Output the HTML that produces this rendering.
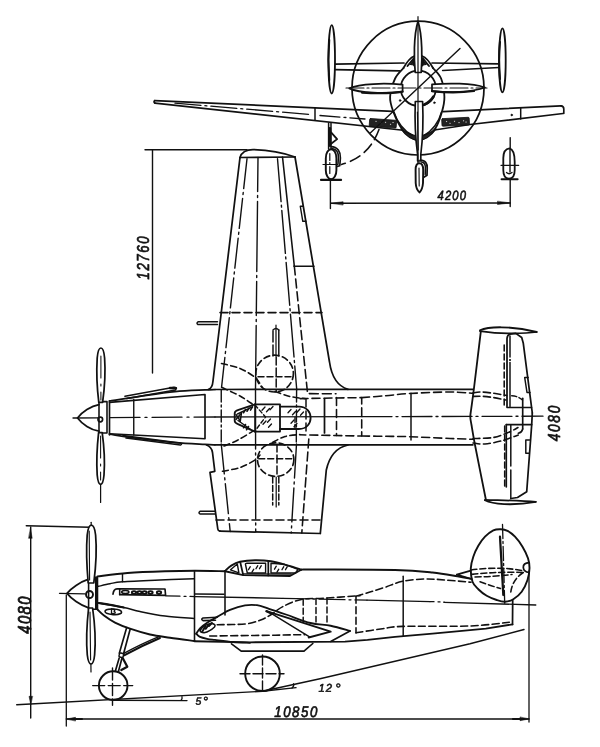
<!DOCTYPE html>
<html><head><meta charset="utf-8"><title>Drawing</title>
<style>
html,body{margin:0;padding:0;background:#fff;}
body{width:600px;height:747px;overflow:hidden;}
svg{display:block;}
text{font-family:"Liberation Sans",sans-serif;fill:#111;}
svg{will-change:transform;}
</style></head><body>
<svg width="600" height="747" viewBox="0 0 600 747" stroke-linecap="round" stroke-linejoin="round">
<rect x="0" y="0" width="600" height="747" fill="#fff"/>
<g id="front">
<path d="M335,64.2 L404,63" fill="none" stroke="#111" stroke-width="1.74"/>
<path d="M335,69.6 L399.5,70.8" fill="none" stroke="#111" stroke-width="1.74"/>
<path d="M432,63 L499,63.8" fill="none" stroke="#111" stroke-width="1.74"/>
<path d="M442.7,70.5 L499,67.5" fill="none" stroke="#111" stroke-width="1.74"/>
<ellipse cx="331.7" cy="59.3" rx="3.3" ry="34.2" fill="#fff" stroke="#111" stroke-width="1.82"/>
<path d="M329.3,40 C328.2,52 328.2,68 329.3,80" fill="none" stroke="#111" stroke-width="1.91"/>
<ellipse cx="502.4" cy="60.3" rx="3.3" ry="32" fill="#fff" stroke="#111" stroke-width="1.82"/>
<path d="M500,42 C499,52 499,68 500,79" fill="none" stroke="#111" stroke-width="2.08"/>
<path d="M154.7,100.6 L392.7,111.3" fill="none" stroke="#111" stroke-width="1.66"/>
<path d="M155,103.2 L410,131" fill="none" stroke="#111" stroke-width="1.74"/>
<path d="M154.7,100.6 Q153.2,102 155,103.2" fill="none" stroke="#111" stroke-width="1.74"/>
<path d="M175,103.2 L310,114.4" fill="none" stroke="#111" stroke-width="1.31" stroke-dasharray="26 4 2 4"/>
<path d="M320,115.5 L365,119" fill="none" stroke="#111" stroke-width="1.31" stroke-dasharray="20 4 2 4"/>
<path d="M315,108 L315,120.2" fill="none" stroke="#111" stroke-width="1.49"/>
<path d="M443.3,111.7 L561,105.8" fill="none" stroke="#111" stroke-width="1.74"/>
<path d="M428,131 L470,124.5 L563,113.5" fill="none" stroke="#111" stroke-width="1.74"/>
<path d="M561,105.8 Q563.8,106 563.8,109 L563.8,113.5" fill="none" stroke="#111" stroke-width="1.66"/>
<path d="M520.7,108 L520.7,119" fill="none" stroke="#111" stroke-width="1.49"/>
<ellipse cx="511.7" cy="115" rx="0.9" ry="0.9" fill="#111" stroke="#111" stroke-width="0.5"/>
<rect x="369.5" y="119.4" width="27" height="7.8" rx="1" fill="#222" stroke="#111" stroke-width="0.8" transform="rotate(4 383 122)"/>
<rect x="441.8" y="118" width="27.5" height="7.6" rx="1" fill="#222" stroke="#111" stroke-width="0.8" transform="rotate(-3 455 121)"/>
<ellipse cx="376" cy="121.3" rx="0.55" ry="0.55" fill="#ddd" stroke="#ddd" stroke-width="0.1"/>
<ellipse cx="380.5" cy="123.2" rx="0.55" ry="0.55" fill="#ddd" stroke="#ddd" stroke-width="0.1"/>
<ellipse cx="385.5" cy="122.3" rx="0.55" ry="0.55" fill="#ddd" stroke="#ddd" stroke-width="0.1"/>
<ellipse cx="390.5" cy="124.3" rx="0.55" ry="0.55" fill="#ddd" stroke="#ddd" stroke-width="0.1"/>
<ellipse cx="393" cy="122.5" rx="0.55" ry="0.55" fill="#ddd" stroke="#ddd" stroke-width="0.1"/>
<ellipse cx="446.5" cy="121.5" rx="0.55" ry="0.55" fill="#ddd" stroke="#ddd" stroke-width="0.1"/>
<ellipse cx="450" cy="123.3" rx="0.55" ry="0.55" fill="#ddd" stroke="#ddd" stroke-width="0.1"/>
<ellipse cx="454.5" cy="121.2" rx="0.55" ry="0.55" fill="#ddd" stroke="#ddd" stroke-width="0.1"/>
<ellipse cx="459" cy="122.6" rx="0.55" ry="0.55" fill="#ddd" stroke="#ddd" stroke-width="0.1"/>
<ellipse cx="463.5" cy="120.8" rx="0.55" ry="0.55" fill="#ddd" stroke="#ddd" stroke-width="0.1"/>
<ellipse cx="466" cy="122" rx="0.55" ry="0.55" fill="#ddd" stroke="#ddd" stroke-width="0.1"/>
<ellipse cx="418" cy="88.1" rx="66" ry="66.9" fill="none" stroke="#111" stroke-width="1.74"/>
<path d="M403.5,68 C402.1,69.75 397.33,73.68 395.1,78.5 C392.87,83.32 390.38,91.33 390.1,96.9 C389.82,102.47 391.45,106.62 393.4,111.9 C395.35,117.18 398.73,124.28 401.8,128.6 C404.87,132.92 409.02,135.85 411.8,137.8 C414.58,139.75 416.27,140.3 418.5,140.3 C420.73,140.3 422.42,139.75 425.2,137.8 C427.98,135.85 432.42,132.92 435.2,128.6 C437.98,124.28 440.37,117.18 441.9,111.9 C443.43,106.62 444.53,102.47 444.4,96.9 C444.27,91.33 443,83.32 441.1,78.5 C439.2,73.68 434.35,69.75 433,68" fill="#fff" stroke="#111" stroke-width="1.82"/>
<path d="M403.5,68 C407,61.5 410.5,57.5 414.5,56 L422,56 C426,57.5 429.5,61.5 433,68" fill="#fff" stroke="#111" stroke-width="1.82"/>
<path d="M407.5,66 L413.8,58.3 L414.2,65.5" fill="none" stroke="#111" stroke-width="1.91"/>
<path d="M410.5,64.5 L413.6,60.5 L413.8,65 Z" fill="#222" stroke="#111" stroke-width="1.23"/>
<path d="M429,66 L422.8,58.3 L422.4,65.5" fill="none" stroke="#111" stroke-width="1.91"/>
<path d="M426,64.5 L423,60.5 L422.8,65 Z" fill="#222" stroke="#111" stroke-width="1.23"/>
<path d="M401,129 C407,137.5 413,140 418.5,140.5 C424,140 430,137.5 436,129 C430,133.5 424,135.6 418.5,135.8 C413,135.6 407,133.5 401,129Z" fill="#222" stroke="#111" stroke-width="1.23"/>
<path d="M394,112 C397,122 404,131 412,135" fill="none" stroke="#111" stroke-width="1.4"/>
<path d="M441.5,112 C439,122 432,131 424.5,135" fill="none" stroke="#111" stroke-width="1.4"/>
<ellipse cx="418.3" cy="88.3" rx="17.6" ry="17.6" fill="none" stroke="#111" stroke-width="1.82"/>
<path d="M424,104.8 C428,103 431.5,100 433.5,96.5" fill="none" stroke="#111" stroke-width="2.59"/>
<ellipse cx="400.1" cy="100.5" rx="0.9" ry="0.9" fill="#111" stroke="#111" stroke-width="0.5"/>
<ellipse cx="434.4" cy="102.7" rx="0.9" ry="0.9" fill="#111" stroke="#111" stroke-width="0.5"/>
<path d="M460,48.5 L370.5,132.8" fill="none" stroke="#111" stroke-width="1.4"/>
<path d="M379,129.5 Q369,157 341.5,164.5" fill="none" stroke="#111" stroke-width="1.57" stroke-dasharray="11 5.5"/>
<path d="M418,21.3 C413.4,36 414,60 415.2,72.5 L421.2,72.5 C422.2,60 422.6,36 418,21.3Z" fill="#fff" stroke="#111" stroke-width="1.74"/>
<path d="M415.3,101.5 L422.6,101.5 C423.4,120 422.6,140 420.8,154.5 L420.8,161 L417.6,161 L417.6,154.5 C415.6,140 414.6,120 415.3,101.5Z" fill="#fff" stroke="#111" stroke-width="1.66"/>
<path d="M417.4,112 L418.2,150" fill="none" stroke="#111" stroke-width="1.15"/>
<path d="M349.3,88.4 C360,83.4 385,83 402.6,84.6 L402.6,91.6 C385,93.8 360,93.4 349.3,88.4Z" fill="#fff" stroke="#111" stroke-width="1.74"/>
<path d="M362,92.6 C380,93.6 395,92.8 402.6,91.6" fill="none" stroke="#111" stroke-width="2.25"/>
<path d="M485,87.5 C472,83 448,83 432,84.4 L432,91.2 C448,93 472,92.4 485,87.5Z" fill="#fff" stroke="#111" stroke-width="1.74"/>
<path d="M432,91.2 C448,93 462,92.7 474,91" fill="none" stroke="#111" stroke-width="2.25"/>
<path d="M418,16.7 L418,170" fill="none" stroke="#111" stroke-width="1.23"/>
<path d="M346,88 L487,88" fill="none" stroke="#111" stroke-width="1.15" stroke-dasharray="18 3 2 3"/>
<path d="M328.6,123 L328.6,149" fill="none" stroke="#111" stroke-width="1.49"/>
<path d="M331,123 L331,149" fill="none" stroke="#111" stroke-width="1.49"/>
<path d="M329.8,128.5 L329.8,145.5" fill="none" stroke="#111" stroke-width="2.93"/>
<path d="M331.1,132.4 L337.1,139.1 L331.1,143.8" fill="none" stroke="#111" stroke-width="1.82"/>
<rect x="325.8" y="149.2" width="10.6" height="30" rx="5.3" ry="9" fill="#fff" stroke="#111" stroke-width="1.9"/>
<path d="M331.1,146.6 C337.5,146.6 340.8,152 340.4,158 L339.8,165.8 L337.2,166.4" fill="none" stroke="#111" stroke-width="1.66"/>
<path d="M332,148.6 C336.5,149 338.6,153 338.4,158 L338,164" fill="none" stroke="#111" stroke-width="1.49"/>
<path d="M323,164.5 L337.8,164.5" fill="none" stroke="#111" stroke-width="1.23"/>
<path d="M329.8,153.5 L329.8,174" fill="none" stroke="#111" stroke-width="1.23" stroke-dasharray="7 2 2 2"/>
<path d="M321,179.9 L341.1,179.9" fill="none" stroke="#111" stroke-width="2.08"/>
<path d="M330.4,180.6 L330.4,208.5" fill="none" stroke="#111" stroke-width="1.4"/>
<path d="M510.2,137.8 L510.2,206.5" fill="none" stroke="#111" stroke-width="1.4"/>
<path d="M509.5,148.3 C512.5,149 514.7,154 514.7,162 L514.7,170 C514.7,176 512.5,178.6 509,178.6 C505.5,178.6 503.3,176 503.3,170 L503.3,158 C503.3,152 505.5,148.8 509.5,148.3Z" fill="#fff" stroke="#111" stroke-width="1.82"/>
<path d="M510,149 L510,172" fill="none" stroke="#111" stroke-width="1.4"/>
<path d="M501,165.3 L518.7,165.3" fill="none" stroke="#111" stroke-width="1.23"/>
<path d="M506.5,172.5 Q509,175 512,172.5" fill="none" stroke="#111" stroke-width="1.23"/>
<path d="M501.6,179.3 L517.6,179.3" fill="none" stroke="#111" stroke-width="2.08"/>
<path d="M420.3,160.2 C425.5,160.2 427.5,164 427.2,168 L427,175.2 L424.2,177" fill="none" stroke="#111" stroke-width="1.74"/>
<path d="M421.5,162 C424.6,162.6 425.6,165 425.4,168 L425.2,174.5" fill="none" stroke="#111" stroke-width="1.49"/>
<path d="M419.3,163.2 C422,163.2 423.2,166 423.2,170 L423,183 C422.6,188 421,191 419.6,192.4 C417.6,191 416,188 415.7,183 L415.6,170 C415.6,166 416.8,163.2 419.3,163.2Z" fill="#fff" stroke="#111" stroke-width="1.91"/>
<path d="M419,168 L419.2,186" fill="none" stroke="#111" stroke-width="1.15"/>
<path d="M330.8,203.2 L510.2,203" fill="none" stroke="#111" stroke-width="1.49"/>
<path d="M330.6,203.2 L343.1,201.7 L343.1,204.7 Z" fill="#111" stroke="#111" stroke-width="0.5"/>
<path d="M510,203 L497.5,204.5 L497.5,201.5 Z" fill="#111" stroke="#111" stroke-width="0.5"/>
<text x="0" y="0" font-size="13.4" font-style="italic" font-weight="normal" letter-spacing="1.4" stroke="#111" stroke-width="0.6" stroke-linejoin="round" transform="translate(437.5 199.7) rotate(0.03) scale(0.84 1)">4200</text>
</g>
<g id="top">
<path d="M145,149.8 L247,149.8" fill="none" stroke="#111" stroke-width="1.4"/>
<path d="M152.5,150 L152.5,373" fill="none" stroke="#111" stroke-width="1.4"/>
<text x="0" y="0" font-size="15.6" font-style="italic" font-weight="normal" letter-spacing="1.9" stroke="#111" stroke-width="0.7" stroke-linejoin="round" transform="translate(149 279.6) rotate(-90) scale(0.85 1)">12760</text>
<path d="M240,157.5 C241.5,152.5 246,149.6 253,149.6 C268,150 284,153 295,157" fill="none" stroke="#111" stroke-width="1.74"/>
<path d="M240,157.5 L295,157" fill="none" stroke="#111" stroke-width="1.57"/>
<path d="M240,157.5 L213,381 Q212.3,388.5 208.5,389.4" fill="none" stroke="#111" stroke-width="1.74"/>
<path d="M295,157 L329.5,362 C331.5,376 337,386 348,389.3" fill="none" stroke="#111" stroke-width="1.74"/>
<path d="M247,158.75 L221.25,390" fill="none" stroke="#111" stroke-width="1.4" stroke-dasharray="30 4 2 4"/>
<path d="M258,157.5 L255.5,389" fill="none" stroke="#111" stroke-width="1.4" stroke-dasharray="34 4 2 4 70 4 2 4"/>
<path d="M277.5,158.75 L296.75,389.75" fill="none" stroke="#111" stroke-width="1.4" stroke-dasharray="43 3.5 2 3.5"/>
<path d="M282.5,157 L294.3,266" fill="none" stroke="#111" stroke-width="1.57"/>
<path d="M294.3,266 L307.6,393.6 L336,393.8" fill="none" stroke="#111" stroke-width="1.57" stroke-dasharray="9 4"/>
<path d="M294,266.3 L314,266.3" fill="none" stroke="#111" stroke-width="1.49"/>
<path d="M303.3,206.3 L300.3,206.3 L302.8,221.3 L306,221.3" fill="none" stroke="#111" stroke-width="1.4"/>
<path d="M220,312.6 L322,312.6" fill="none" stroke="#111" stroke-width="1.57" stroke-dasharray="8 4"/>
<path d="M217.5,321.8 L198,321.8 Q196,323.2 198,324.6 L217.5,324.6" fill="none" stroke="#111" stroke-width="1.49"/>
<ellipse cx="274.6" cy="373.6" rx="18.8" ry="18.4" fill="none" stroke="#111" stroke-width="1.66" stroke-dasharray="6 3.5"/>
<path d="M258,376.7 L292,376.7" fill="none" stroke="#111" stroke-width="1.49" stroke-dasharray="6 3"/>
<path d="M276.2,357 L276.2,392" fill="none" stroke="#111" stroke-width="1.49" stroke-dasharray="8 3"/>
<path d="M273,356 L273,330" fill="none" stroke="#111" stroke-width="1.49" stroke-dasharray="11 3"/>
<path d="M278.8,356 L278.8,330" fill="none" stroke="#111" stroke-width="1.49"/>
<path d="M273,330 Q276,327 278.8,330" fill="none" stroke="#111" stroke-width="1.49"/>
<path d="M276,325 L276,356" fill="none" stroke="#111" stroke-width="1.23"/>
<path d="M221.5,363.5 C224.58,364.33 234.42,366.17 240,368.5 C245.58,370.83 251.33,374.42 255,377.5 C258.67,380.58 260.83,385.42 262,387" fill="none" stroke="#111" stroke-width="1.57" stroke-dasharray="6 3.5"/>
<path d="M222,387.5 C225,388.92 234.71,393.08 240,396 C245.29,398.92 251.46,403.5 253.75,405" fill="none" stroke="#111" stroke-width="1.57" stroke-dasharray="6 3.5"/>
<path d="M275,391.5 C277.5,392.33 285,395.32 290,396.5 C295,397.68 302.5,398.25 305,398.6" fill="none" stroke="#111" stroke-width="1.57" stroke-dasharray="6 3.5"/>
<path d="M206.5,445 Q211.5,446.6 212.5,452.5 L214.8,471.3 L210,472.3 L217.8,529 Q218,531 220,531.2" fill="none" stroke="#111" stroke-width="1.74"/>
<path d="M220,531.2 L320.3,533.5" fill="none" stroke="#111" stroke-width="1.74"/>
<path d="M348,445 C336,447.6 329,458 326.3,470 L320.3,533.5" fill="none" stroke="#111" stroke-width="1.74"/>
<path d="M221.25,444 L230.2,531.5" fill="none" stroke="#111" stroke-width="1.4" stroke-dasharray="30 4 2 4"/>
<path d="M255.5,389 L255.7,532" fill="none" stroke="#111" stroke-width="1.4" stroke-dasharray="60 4 2 4"/>
<path d="M296.5,444 L291.2,533" fill="none" stroke="#111" stroke-width="1.4" stroke-dasharray="34 4 2 4"/>
<path d="M308.8,439 L301.8,533" fill="none" stroke="#111" stroke-width="1.57" stroke-dasharray="9 4"/>
<path d="M216,520 L320,520" fill="none" stroke="#111" stroke-width="1.57" stroke-dasharray="8 4"/>
<path d="M215,511.3 L200,511.3 Q198,512.6 200,514 L215,514" fill="none" stroke="#111" stroke-width="1.49"/>
<ellipse cx="275.7" cy="459.6" rx="18.2" ry="16.8" fill="none" stroke="#111" stroke-width="1.66" stroke-dasharray="6 3.5"/>
<path d="M258.7,458.8 L292,458.8" fill="none" stroke="#111" stroke-width="1.49" stroke-dasharray="6 3"/>
<path d="M277,444 L277,476" fill="none" stroke="#111" stroke-width="1.49" stroke-dasharray="8 3"/>
<path d="M272.7,477 L272.7,505" fill="none" stroke="#111" stroke-width="1.49" stroke-dasharray="6 2.5"/>
<path d="M278.8,477 L278.8,505" fill="none" stroke="#111" stroke-width="1.49" stroke-dasharray="6 2.5"/>
<path d="M276.2,477 L276.2,507" fill="none" stroke="#111" stroke-width="1.23"/>
<path d="M222.5,471.3 C225.42,470.67 234.58,469.38 240,467.5 C245.42,465.62 251.67,462.08 255,460 C258.33,457.92 259.17,455.83 260,455" fill="none" stroke="#111" stroke-width="1.57" stroke-dasharray="6 3.5"/>
<path d="M224,446 C226.33,445 233.25,442.45 238,440 C242.75,437.55 250.08,432.75 252.5,431.3" fill="none" stroke="#111" stroke-width="1.57" stroke-dasharray="6 3.5"/>
<path d="M272.5,442.5 C274.58,441.5 280.42,437.83 285,436.5 C289.58,435.17 297.5,434.83 300,434.5" fill="none" stroke="#111" stroke-width="1.57" stroke-dasharray="6 3.5"/>
<path d="M109.5,401 C114.58,400.22 129.08,397.87 140,396.3 C150.92,394.73 164.17,392.67 175,391.6 C185.83,390.53 198.33,390.25 205,389.9 C211.67,389.55 213.33,389.57 215,389.5" fill="none" stroke="#111" stroke-width="1.74"/>
<path d="M215,389.5 L472.9,389.3" fill="none" stroke="#111" stroke-width="1.74"/>
<path d="M109.5,434.2 C114.58,434.95 129.08,437.3 140,438.7 C150.92,440.1 164.17,441.65 175,442.6 C185.83,443.55 198.33,444.03 205,444.4 C211.67,444.77 213.33,444.73 215,444.8" fill="none" stroke="#111" stroke-width="1.74"/>
<path d="M215,444.8 L472.9,444.8" fill="none" stroke="#111" stroke-width="1.74"/>
<path d="M109.5,402.3 L205,394.5 L205,438.75 L109.5,433.75" fill="none" stroke="#111" stroke-width="1.66"/>
<path d="M133.75,399.5 L133.75,435" fill="none" stroke="#111" stroke-width="1.4"/>
<path d="M109.5,400.75 L109.5,435" fill="none" stroke="#111" stroke-width="1.66"/>
<path d="M125,396.3 L174,387.2 Q177,387.3 175.5,390 L127,398.6" fill="none" stroke="#111" stroke-width="1.57"/>
<path d="M170,388 L176,388.3" fill="none" stroke="#111" stroke-width="2.42"/>
<path d="M123,435.5 L180,443 Q183,444 180.5,445 L126,438" fill="none" stroke="#111" stroke-width="1.57"/>
<path d="M99,404.6 C91,406 82,412 77.5,418 C82,424 91,430 99,431.2" fill="none" stroke="#111" stroke-width="1.74"/>
<path d="M99,401.6 L107,401.6 L107,433 L99,433 L99,401.6" fill="none" stroke="#111" stroke-width="1.57"/>
<ellipse cx="100.3" cy="419.5" rx="2.3" ry="2.3" fill="none" stroke="#111" stroke-width="1.66"/>
<path d="M98.8,402.3 C97,388 96.6,368 97.2,358 C97.8,351 99.3,348 100.9,348 C102.5,348 104,351 104.6,358 C105.3,368 104.6,388 102.6,402.3Z" fill="#fff" stroke="#111" stroke-width="1.74"/>
<path d="M98.6,432.6 C96.9,448 96.6,466 97.2,475 C97.8,481.5 99.2,484.4 100.6,484.4 C102,484.4 103.4,481.5 104,475 C104.7,466 104.3,448 102.2,432.6Z" fill="#fff" stroke="#111" stroke-width="1.74"/>
<path d="M100.9,356 L100.9,400" fill="none" stroke="#111" stroke-width="1.06" stroke-dasharray="22 6 2 6"/>
<path d="M100.6,436 L100.6,480" fill="none" stroke="#111" stroke-width="1.06" stroke-dasharray="22 6 2 6"/>
<path d="M100.6,484.4 L100.6,502.5" fill="none" stroke="#111" stroke-width="1.23"/>
<path d="M73,418 L98,417.8" fill="none" stroke="#111" stroke-width="1.31"/>
<path d="M110,417.6 L215,417" fill="none" stroke="#111" stroke-width="1.31" stroke-dasharray="30 5 2 5"/>
<path d="M215,417 L362,416.7" fill="none" stroke="#111" stroke-width="1.31"/>
<path d="M362,416.7 L543,416.2" fill="none" stroke="#111" stroke-width="1.31" stroke-dasharray="30 4 2 4"/>
<path d="M221.25,390 L221.25,444" fill="none" stroke="#111" stroke-width="1.4" stroke-dasharray="12 3 2 3"/>
<path d="M255,404.3 L238.5,409.8 Q234.7,411 234.7,413 L234.7,421 Q234.7,423 238.5,424.3 L255,431.6" fill="none" stroke="#111" stroke-width="1.82"/>
<path d="M255,404.3 L280,404.3 L280,431.6 L255,431.6" fill="none" stroke="#111" stroke-width="1.82"/>
<path d="M255,404.3 L255,431.6" fill="none" stroke="#111" stroke-width="1.57"/>
<path d="M280,406.6 L299,406.6 C314.5,406.6 314.5,429 299,429 L280,429" fill="none" stroke="#111" stroke-width="1.82"/>
<path d="M237.5,414 L252.5,406.8" fill="none" stroke="#111" stroke-width="1.4"/>
<path d="M238,420.5 L250,429" fill="none" stroke="#111" stroke-width="1.4"/>
<path d="M241.5,412.5 L240.2,421.5" fill="none" stroke="#111" stroke-width="1.57"/>
<path d="M236,414.5 L240,420.5" fill="none" stroke="#111" stroke-width="1.4"/>
<path d="M236,419.5 L240.5,414" fill="none" stroke="#111" stroke-width="1.4"/>
<path d="M243.5,412.8 L245.5,409.5" fill="none" stroke="#111" stroke-width="1.57"/>
<path d="M247,411.3 L249,408" fill="none" stroke="#111" stroke-width="1.57"/>
<path d="M250.5,410.1 L252.5,406.8" fill="none" stroke="#111" stroke-width="1.57"/>
<path d="M243.5,427.8 L245.5,424.5" fill="none" stroke="#111" stroke-width="1.57"/>
<path d="M246.5,429.8 L248.5,426.5" fill="none" stroke="#111" stroke-width="1.57"/>
<path d="M262,410.2 L265,407" fill="none" stroke="#111" stroke-width="1.31"/>
<path d="M266.5,411.7 L269.5,408.5" fill="none" stroke="#111" stroke-width="1.31"/>
<path d="M270,409.7 L273,406.5" fill="none" stroke="#111" stroke-width="1.31"/>
<path d="M263,424.2 L266,421" fill="none" stroke="#111" stroke-width="1.31"/>
<path d="M267.5,422.2 L270.5,419" fill="none" stroke="#111" stroke-width="1.31"/>
<path d="M268.5,427.2 L271.5,424" fill="none" stroke="#111" stroke-width="1.31"/>
<path d="M288,412.7 L291,409.5" fill="none" stroke="#111" stroke-width="1.31"/>
<path d="M292.5,414.7 L295.5,411.5" fill="none" stroke="#111" stroke-width="1.31"/>
<path d="M297,412.2 L300,409" fill="none" stroke="#111" stroke-width="1.31"/>
<path d="M291,423.2 L294,420" fill="none" stroke="#111" stroke-width="1.31"/>
<path d="M294,426.7 L297,423.5" fill="none" stroke="#111" stroke-width="1.31"/>
<path d="M300.5,415.2 L303.5,412" fill="none" stroke="#111" stroke-width="1.31"/>
<path d="M295,417.5 L295,428.5" fill="none" stroke="#111" stroke-width="1.4" stroke-dasharray="5 2"/>
<path d="M255,405 L265.5,417 L255,431" fill="none" stroke="#111" stroke-width="1.4" stroke-dasharray="4 2.5"/>
<path d="M300,398.6 L361.7,397.6 L361.7,436 L300,434.8" fill="none" stroke="#111" stroke-width="1.57" stroke-dasharray="8 4"/>
<path d="M324.5,398.5 L324.5,433" fill="none" stroke="#111" stroke-width="1.74"/>
<path d="M306,399 L306,435" fill="none" stroke="#111" stroke-width="1.49" stroke-dasharray="8 4"/>
<path d="M296.6,390 L296.3,444" fill="none" stroke="#111" stroke-width="1.4" stroke-dasharray="12 3 2 3"/>
<path d="M336.5,397.5 L336.5,435.5" fill="none" stroke="#111" stroke-width="1.57" stroke-dasharray="8 4"/>
<path d="M361.7,397.6 C365.58,397.3 376.95,396.48 385,395.8 C393.05,395.12 399.17,394.13 410,393.5 C420.83,392.87 439.5,392.03 450,392 C460.5,391.97 469.17,393.08 473,393.3" fill="none" stroke="#111" stroke-width="1.57" stroke-dasharray="8 4"/>
<path d="M361.7,436 C365.58,436.05 376.95,436.18 385,436.3 C393.05,436.42 399.17,436.33 410,436.7 C420.83,437.07 439.5,438.07 450,438.5 C460.5,438.93 469.17,439.17 473,439.3" fill="none" stroke="#111" stroke-width="1.57" stroke-dasharray="8 4"/>
<path d="M411,393.3 L411,440" fill="none" stroke="#111" stroke-width="1.49"/>
<path d="M480,330.3 C488,326.5 510,325.5 536.7,332" fill="none" stroke="#111" stroke-width="1.82"/>
<path d="M480,331.2 C492,333 505,333.6 512,333.4 C522,333.2 530,332.8 536.7,332" fill="none" stroke="#111" stroke-width="1.74"/>
<path d="M480.8,331.7 C479.67,341.08 475.6,375.12 474,388 C472.4,400.88 471.82,404.17 471.2,409 C470.58,413.83 470.25,414.33 470.3,417 C470.35,419.67 470.72,420.33 471.5,425 C472.28,429.67 472.62,432.63 475,445 C477.38,457.37 484,490.17 485.8,499.2" fill="none" stroke="#111" stroke-width="1.82"/>
<path d="M507,406.5 L507,338.5 Q507.3,335 510,334.2 L515.8,333.4 L521.7,337.5 L523.3,343.3 L532.3,413" fill="none" stroke="#111" stroke-width="1.74"/>
<path d="M510,336 L510,357" fill="none" stroke="#111" stroke-width="1.49"/>
<path d="M510,362.5 L510,406.5" fill="none" stroke="#111" stroke-width="1.49"/>
<ellipse cx="510" cy="360" rx="0.5" ry="0.5" fill="#111" stroke="#111" stroke-width="1.06"/>
<path d="M504.2,345 L504.2,406.7" fill="none" stroke="#111" stroke-width="1.57" stroke-dasharray="6 3"/>
<path d="M507,407.5 L531.5,407.5" fill="none" stroke="#111" stroke-width="1.66"/>
<path d="M522.7,398.3 L522.7,429" fill="none" stroke="#111" stroke-width="1.66"/>
<path d="M522.7,429 Q522,432.5 518.3,433.3" fill="none" stroke="#111" stroke-width="1.57"/>
<path d="M511.7,395.8 Q518,396 522.5,400" fill="none" stroke="#111" stroke-width="1.49" stroke-dasharray="5 2.5"/>
<path d="M506.3,424.7 L531.7,424.7" fill="none" stroke="#111" stroke-width="1.66"/>
<path d="M532.3,413 L531.7,424.7 L526.7,491.7 L517.5,497.5 L510.8,498.5" fill="none" stroke="#111" stroke-width="1.74"/>
<path d="M506.3,424.7 L506.3,487" fill="none" stroke="#111" stroke-width="1.66"/>
<path d="M510.8,424.7 L510.8,466" fill="none" stroke="#111" stroke-width="1.49"/>
<path d="M510.8,470 L510.8,498.5" fill="none" stroke="#111" stroke-width="1.49"/>
<path d="M504.7,426 L504.7,486.7" fill="none" stroke="#111" stroke-width="1.57" stroke-dasharray="6 3"/>
<path d="M485,499.8 C500,500.3 520,500.5 535.8,501.8" fill="none" stroke="#111" stroke-width="1.74"/>
<path d="M485,500.3 C492,504 512,506.2 535.8,501.8" fill="none" stroke="#111" stroke-width="1.82"/>
<path d="M528.2,377.5 L524.7,377.5 L527,392.5 L530,392.5" fill="none" stroke="#111" stroke-width="1.49"/>
<path d="M529.5,440 L525.8,440 L525.8,453.3 L528.8,453.3" fill="none" stroke="#111" stroke-width="1.49"/>
<path d="M473,393 C474.17,392.83 476.67,391.97 480,392 C483.33,392.03 488.55,392.62 493,393.2 C497.45,393.78 504.42,395.12 506.7,395.5" fill="none" stroke="#111" stroke-width="1.57" stroke-dasharray="7 3.5"/>
<path d="M473,396.5 C474.33,396.45 477.67,396.03 481,396.2 C484.33,396.37 488.87,396.87 493,397.5 C497.13,398.13 503.67,399.58 505.8,400" fill="none" stroke="#111" stroke-width="1.57" stroke-dasharray="7 3.5"/>
<path d="M473,438.5 C476.38,438.33 487.13,438.63 493.3,437.5 C499.47,436.37 505.88,433.37 510,431.7 C514.12,430.03 516.67,428.2 518,427.5" fill="none" stroke="#111" stroke-width="1.57" stroke-dasharray="7 3.5"/>
<path d="M473,443 C475,443.17 480.22,444.37 485,444 C489.78,443.63 496.15,442.3 501.7,440.8 C507.25,439.3 515.53,435.97 518.3,435" fill="none" stroke="#111" stroke-width="1.57" stroke-dasharray="7 3.5"/>
<text x="0" y="0" font-size="16.6" font-style="italic" font-weight="normal" letter-spacing="2" stroke="#111" stroke-width="0.7" stroke-linejoin="round" transform="translate(560 441.3) rotate(-90) scale(0.83 1)">4080</text>
</g>
<g id="side">
<path d="M26.3,525.8 L90,527.3" fill="none" stroke="#111" stroke-width="1.49"/>
<path d="M30.7,527 L30.7,718" fill="none" stroke="#111" stroke-width="1.4"/>
<path d="M30.5,528.3 L32.2,538.3 L28.8,538.3 Z" fill="#111" stroke="#111" stroke-width="0.5"/>
<path d="M30.7,704.3 L29,696.3 L32.4,696.3 Z" fill="#111" stroke="#111" stroke-width="0.5"/>
<text x="0" y="0" font-size="18.4" font-style="italic" font-weight="normal" letter-spacing="1.9" stroke="#111" stroke-width="0.8" stroke-linejoin="round" transform="translate(30.5 633.8) rotate(-90) scale(0.8 1)">4080</text>
<path d="M66.3,595 L66.3,726" fill="none" stroke="#111" stroke-width="1.31"/>
<path d="M529,571 L529,722" fill="none" stroke="#111" stroke-width="1.31"/>
<path d="M66.3,719 L529,719" fill="none" stroke="#111" stroke-width="1.4"/>
<path d="M66.5,719 L75.5,717.3 L75.5,720.7 Z" fill="#111" stroke="#111" stroke-width="0.5"/>
<path d="M75,719 L82,719" fill="none" stroke="#111" stroke-width="2.08"/>
<path d="M529,719 L520,720.7 L520,717.3 Z" fill="#111" stroke="#111" stroke-width="0.5"/>
<path d="M513,719 L520,719" fill="none" stroke="#111" stroke-width="2.08"/>
<text x="0" y="0" font-size="15.4" font-style="italic" font-weight="normal" letter-spacing="1.8" stroke="#111" stroke-width="0.7" stroke-linejoin="round" transform="translate(274.3 716.8) rotate(0.03) scale(0.86 1)">10850</text>
<path d="M16.7,704.7 L262.5,691.3 L296,687.6" fill="none" stroke="#111" stroke-width="1.4"/>
<path d="M112,700.2 L187,700.6" fill="none" stroke="#111" stroke-width="1.4"/>
<path d="M181,700.4 Q182.5,698.5 182,696.7" fill="none" stroke="#111" stroke-width="1.31"/>
<path d="M262.5,691.3 L320,678.75 L470,643.75 L524,629.5" fill="none" stroke="#111" stroke-width="1.4"/>
<path d="M292,688 Q294.5,686 293.5,683.8" fill="none" stroke="#111" stroke-width="1.31"/>
<text x="0" y="0" font-size="10.5" font-style="italic" font-weight="normal" letter-spacing="0" stroke="#111" stroke-width="0.5" stroke-linejoin="round" transform="translate(195.5 704.8) rotate(0.03) scale(1 1)">5<tspan dx="1.5" dy="1" font-size="13">°</tspan></text>
<text x="0" y="0" font-size="11.3" font-style="italic" font-weight="normal" letter-spacing="1" stroke="#111" stroke-width="0.5" stroke-linejoin="round" transform="translate(318.5 691.8) rotate(0.03) scale(1 1)">12<tspan dx="2" dy="1.5" font-size="14">°</tspan></text>
<path d="M59.5,593.3 L85,593.9" fill="none" stroke="#111" stroke-width="1.31"/>
<path d="M166,595.9 L195,596.6" fill="none" stroke="#111" stroke-width="1.23" stroke-dasharray="14 4 2 4"/>
<path d="M195,596.6 L283,598.3" fill="none" stroke="#111" stroke-width="1.31"/>
<path d="M283,598.3 L367,600.2" fill="none" stroke="#111" stroke-width="1.31" stroke-dasharray="26 4 2 4"/>
<path d="M367,600.2 L430,601.6" fill="none" stroke="#111" stroke-width="1.31"/>
<path d="M430,601.6 L444,602" fill="none" stroke="#111" stroke-width="1.31" stroke-dasharray="4 4 2 4"/>
<path d="M444,602.4 L535.8,605" fill="none" stroke="#111" stroke-width="1.31"/>
<path d="M88.6,579.2 C80,582 71,588.5 67,593.4 C71,598.5 80,605 88.6,607.9" fill="none" stroke="#111" stroke-width="1.74"/>
<path d="M88.6,577.4 L97.5,577.4 L97.5,609.2 L88.6,609.2 L88.6,577.4" fill="none" stroke="#111" stroke-width="1.57"/>
<path d="M96.2,578 L96.2,608.8" fill="none" stroke="#111" stroke-width="2.42"/>
<ellipse cx="89.5" cy="594.5" rx="3.5" ry="3.5" fill="none" stroke="#111" stroke-width="1.91"/>
<path d="M88.2,583 C86.6,565 86.4,545 87.2,535 C88,528 89.5,525.2 91.3,525.2 C93.1,525.2 94.8,528 95.6,535 C96.5,545 96.1,565 93.8,583Z" fill="#fff" stroke="#111" stroke-width="1.74"/>
<path d="M88.6,608 C86.7,625 86.4,645 87.3,655 C88,661 89.5,664 91,664 C92.5,664 94,661 94.6,655 C95.5,645 95,625 92.6,608Z" fill="#fff" stroke="#111" stroke-width="1.74"/>
<path d="M89.2,531 L89.6,580" fill="none" stroke="#111" stroke-width="1.15"/>
<path d="M90,612 L90.6,660" fill="none" stroke="#111" stroke-width="1.15"/>
<path d="M90.9,664 L91,672" fill="none" stroke="#111" stroke-width="1.23"/>
<path d="M91.2,522.3 L91.2,525" fill="none" stroke="#111" stroke-width="1.23"/>
<path d="M97.5,576.4 C102.5,575.83 116.25,573.86 127.5,573 C138.75,572.14 153.75,571.62 165,571.25 C176.25,570.88 185,570.75 195,570.75 C205,570.75 220,571.17 225,571.25" fill="none" stroke="#111" stroke-width="1.91"/>
<path d="M301.25,569.6 C304.38,569.58 304.38,569.43 320,569.5 C335.62,569.57 376.25,569.5 395,570 C413.75,570.5 422.08,571.46 432.5,572.5 C442.92,573.54 451.08,575.2 457.5,576.25 C463.92,577.3 468.75,578.38 471,578.8" fill="none" stroke="#111" stroke-width="1.91"/>
<path d="M225,571 C226.04,570.1 228.75,567.13 231.25,565.6 C233.75,564.07 236.04,562.7 240,561.8 C243.96,560.9 249.83,560.28 255,560.2 C260.17,560.12 265.45,560.4 271,561.3 C276.55,562.2 283.26,564.22 288.3,565.6 C293.34,566.98 299.09,568.93 301.25,569.6" fill="none" stroke="#111" stroke-width="1.91"/>
<path d="M225,571.25 L243.3,575.2 L290,576 L301.25,569.8" fill="none" stroke="#111" stroke-width="1.82"/>
<path d="M243,573.8 L291,574.2" fill="none" stroke="#111" stroke-width="1.31"/>
<path d="M240.2,562 L243.2,575" fill="none" stroke="#111" stroke-width="1.74"/>
<path d="M268.3,561.3 L268.3,575.5" fill="none" stroke="#111" stroke-width="1.74"/>
<path d="M230.5,569.8 L237.3,564 L238.9,572.8 Z" fill="none" stroke="#111" stroke-width="1.4"/>
<path d="M245.5,564.5 Q245.2,563.3 247,563.2 L265.6,563.3 L265.6,573 L247.3,573 Z" fill="none" stroke="#111" stroke-width="1.4"/>
<path d="M271,563.2 L284,564.2 L298,569.4 L295.5,573 L271,573 Z" fill="none" stroke="#111" stroke-width="1.4"/>
<path d="M248.5,569.7 L250.3,566.7" fill="none" stroke="#111" stroke-width="1.31"/>
<path d="M252,572.2 L253.8,569.2" fill="none" stroke="#111" stroke-width="1.31"/>
<path d="M256,568.7 L257.8,565.7" fill="none" stroke="#111" stroke-width="1.31"/>
<path d="M259.5,568.7 L261.3,565.7" fill="none" stroke="#111" stroke-width="1.31"/>
<path d="M274.5,569.2 L276.3,566.2" fill="none" stroke="#111" stroke-width="1.31"/>
<path d="M277,572.2 L278.8,569.2" fill="none" stroke="#111" stroke-width="1.31"/>
<path d="M282,569.7 L283.8,566.7" fill="none" stroke="#111" stroke-width="1.31"/>
<path d="M285.5,569.7 L287.3,566.7" fill="none" stroke="#111" stroke-width="1.31"/>
<path d="M194.5,570.75 L194.5,641.25" fill="none" stroke="#111" stroke-width="1.57"/>
<path d="M225,571.25 L225,615" fill="none" stroke="#111" stroke-width="1.57"/>
<path d="M195,594 L224,594.3" fill="none" stroke="#111" stroke-width="1.4"/>
<path d="M122.5,573.7 L122.5,581.8" fill="none" stroke="#111" stroke-width="1.4"/>
<path d="M98.5,586.3 C100.42,585.88 106,584.55 110,583.8 C114,583.05 114.17,582.43 122.5,581.8 C130.83,581.17 148.08,580.5 160,580 C171.92,579.5 188.33,579 194,578.8" fill="none" stroke="#111" stroke-width="1.4"/>
<path d="M113,594.2 Q113.5,589 117,588.8 L165,589 L165.6,595.4 L119.7,594.6" fill="none" stroke="#111" stroke-width="1.66"/>
<path d="M119.7,589 L119.7,594.6" fill="none" stroke="#111" stroke-width="1.57"/>
<ellipse cx="125.3" cy="592" rx="3.6" ry="1.5" fill="none" stroke="#111" stroke-width="1.57"/>
<ellipse cx="134" cy="592.6" rx="2.2" ry="1.4" fill="none" stroke="#111" stroke-width="1.82"/>
<ellipse cx="139.5" cy="592.6" rx="2.2" ry="1.4" fill="none" stroke="#111" stroke-width="1.82"/>
<ellipse cx="144.5" cy="592.6" rx="2.2" ry="1.4" fill="none" stroke="#111" stroke-width="1.82"/>
<ellipse cx="150.5" cy="592.6" rx="2.2" ry="1.4" fill="none" stroke="#111" stroke-width="1.82"/>
<ellipse cx="159" cy="592.6" rx="2.2" ry="1.4" fill="none" stroke="#111" stroke-width="1.82"/>
<path d="M98.75,603 C102.91,603.75 116.83,606.08 123.7,607.5 C130.57,608.92 133.12,610.08 140,611.5 C146.88,612.92 156,614.83 165,616 C174,617.17 189.17,618.08 194,618.5" fill="none" stroke="#111" stroke-width="1.57"/>
<path d="M98.75,603 C100.62,603.3 105.84,604.05 110,604.8 C114.16,605.55 121.42,607.05 123.7,607.5" fill="none" stroke="#111" stroke-width="2.17"/>
<path d="M97.5,609.5 C98.58,610.5 101.08,613.32 104,615.5 C106.92,617.68 110.67,620.4 115,622.6 C119.33,624.8 124.17,626.72 130,628.7 C135.83,630.68 143.33,633 150,634.5 C156.67,636 162.58,636.62 170,637.7 C177.42,638.78 190.42,640.45 194.5,641" fill="none" stroke="#111" stroke-width="1.91"/>
<path d="M194.5,641.25 L250,642.3 L345,641.6 L367.5,639.8 L395,636.8 L432.5,633.6 L470,630.2 L485.8,628.6 L512.5,624.4" fill="none" stroke="#111" stroke-width="1.82"/>
<ellipse cx="113.3" cy="611.8" rx="8.3" ry="2.8" fill="none" stroke="#111" stroke-width="1.57" transform="rotate(3 113.3 611.8)"/>
<path d="M111.5,609 L111.5,613.7" fill="none" stroke="#111" stroke-width="1.31"/>
<path d="M111.5,609.2 Q116.5,609 114,611.3 Q117.5,613.5 111.5,613.6" fill="none" stroke="#111" stroke-width="1.31"/>
<path d="M126.7,627.6 L119.3,653.3" fill="none" stroke="#111" stroke-width="1.66"/>
<path d="M130.2,629 L123.3,654.7" fill="none" stroke="#111" stroke-width="1.66"/>
<path d="M159.5,636.4 Q140,644.5 124.3,653.2" fill="none" stroke="#111" stroke-width="1.4"/>
<path d="M160,638 Q141,646 124.6,655.2" fill="none" stroke="#111" stroke-width="1.99"/>
<rect x="119.2" y="653.2" width="4.2" height="4.2" rx="1.2" fill="#fff" stroke="#111" stroke-width="1.5" transform="rotate(15 121.3 655.3)"/>
<path d="M119.2,658 L115.3,671.3" fill="none" stroke="#111" stroke-width="1.66"/>
<path d="M121.8,658.7 L118.3,672" fill="none" stroke="#111" stroke-width="1.66"/>
<path d="M122.8,658.2 L127.3,666.7 L121.3,670" fill="none" stroke="#111" stroke-width="2.25"/>
<ellipse cx="113.2" cy="685.6" rx="14.3" ry="14.3" fill="none" stroke="#111" stroke-width="1.91"/>
<path d="M92.7,685.6 L132.7,685.6" fill="none" stroke="#111" stroke-width="1.4" stroke-dasharray="12 3.5"/>
<path d="M112.5,668 L112.5,705.3" fill="none" stroke="#111" stroke-width="1.4" stroke-dasharray="12 3.5"/>
<path d="M196.2,633.7 C196.83,632.8 198.12,630.17 200,628.3 C201.88,626.43 204.25,624.63 207.5,622.5 C210.75,620.37 215.75,617.62 219.5,615.5 C223.25,613.38 225.75,611.48 230,609.8 C234.25,608.12 240.5,606.17 245,605.4 C249.5,604.63 253,604.63 257,605.2 C261,605.77 264.05,607.21 269,608.8 C273.95,610.39 279.78,612.38 286.7,614.75 C293.62,617.12 303.17,621.17 310.5,623 C317.83,624.83 324.12,624.42 330.7,625.75 C337.28,627.08 346.78,630.12 350,631" fill="none" stroke="#111" stroke-width="1.82"/>
<path d="M196.2,633.7 C196.83,634.23 198.2,636.05 200,636.9 C201.8,637.75 204.5,638.3 207,638.8 C209.5,639.3 210.67,639.37 215,639.9 C219.33,640.43 227.17,641.52 233,642 C238.83,642.48 247.17,642.67 250,642.8" fill="none" stroke="#111" stroke-width="1.82"/>
<path d="M350,631 L330.7,641.5" fill="none" stroke="#111" stroke-width="1.66"/>
<path d="M266.5,611.2 L330.7,631.6 L308.7,637.5" fill="none" stroke="#111" stroke-width="1.91"/>
<path d="M272,613.8 L309.5,636.8" fill="none" stroke="#111" stroke-width="1.49"/>
<path d="M266.5,611.2 L272,613.8" fill="none" stroke="#111" stroke-width="2.25"/>
<path d="M217.2,617.2 L203,618 Q200.5,619.3 203,620.6 L215.5,620.2" fill="none" stroke="#111" stroke-width="1.57"/>
<path d="M200,630.5 Q203,625 211.5,623.2 Q216.5,624.5 214.5,627 Q210,631.5 204,632.8 Q200.5,632.5 200,630.5Z" fill="none" stroke="#111" stroke-width="1.57"/>
<path d="M202.3,631.6 L205.3,626.6" fill="none" stroke="#111" stroke-width="1.99"/>
<path d="M205.6,628.8 L208.6,624.78" fill="none" stroke="#111" stroke-width="1.99"/>
<path d="M208.9,625.99 L211.9,622.97" fill="none" stroke="#111" stroke-width="1.99"/>
<path d="M231.5,643.8 L241.2,651.2 L304,651.2 L312.8,643.5" fill="none" stroke="#111" stroke-width="1.66"/>
<path d="M217.2,624.7 C221.83,624.58 237.87,624.73 245,624 C252.13,623.27 255.75,621.8 260,620.3 C264.25,618.8 266.67,617.3 270.5,615 C274.33,612.7 277.87,609.1 283,606.5 C288.13,603.9 294.58,600.77 301.3,599.4 C308.02,598.03 313.52,598.93 323.3,598.3 C333.08,597.67 353.88,596.05 360,595.6" fill="none" stroke="#111" stroke-width="1.57" stroke-dasharray="7 3.5"/>
<path d="M209.7,636 L275,635.2 L305,634.6" fill="none" stroke="#111" stroke-width="1.57" stroke-dasharray="7 3.5"/>
<path d="M303.2,599.2 L303.2,622" fill="none" stroke="#111" stroke-width="1.49" stroke-dasharray="6 3"/>
<path d="M316,598.5 L316,622" fill="none" stroke="#111" stroke-width="1.49" stroke-dasharray="6 3"/>
<path d="M327,598 L327,625" fill="none" stroke="#111" stroke-width="1.49" stroke-dasharray="6 3"/>
<path d="M356,596.2 L356,633" fill="none" stroke="#111" stroke-width="1.57" stroke-dasharray="7 3.5"/>
<ellipse cx="262.5" cy="673.75" rx="17.3" ry="17.3" fill="none" stroke="#111" stroke-width="1.91"/>
<path d="M240,673.75 L284,673.75" fill="none" stroke="#111" stroke-width="1.4" stroke-dasharray="10 3"/>
<path d="M262.5,655 L262.5,692" fill="none" stroke="#111" stroke-width="1.4" stroke-dasharray="10 3"/>
<path d="M356,596.2 C358.33,595.5 365.17,593.48 370,592 C374.83,590.52 379.58,589.08 385,587.3 C390.42,585.52 395.83,582.68 402.5,581.3 C409.17,579.92 417.92,579.22 425,579 C432.08,578.78 437.33,579.45 445,580 C452.67,580.55 466.67,581.92 471,582.3" fill="none" stroke="#111" stroke-width="1.57" stroke-dasharray="7 3.5"/>
<path d="M356,632.7 C360.42,632.04 374.75,629.8 382.5,628.75 C390.25,627.7 387.92,626.86 402.5,626.4 C417.08,625.94 451.67,626.75 470,626 C488.33,625.25 505.42,622.58 512.5,621.9" fill="none" stroke="#111" stroke-width="1.57" stroke-dasharray="7 3.5"/>
<path d="M403.2,576.3 L403.2,636.3" fill="none" stroke="#111" stroke-width="1.49"/>
<path d="M500.8,529.2 C498.43,529.12 495.93,529.05 493.3,530.3 C490.67,531.55 487.5,534.12 485,536.7 C482.5,539.28 480.25,542.47 478.3,545.8 C476.35,549.13 474.55,552.95 473.3,556.7 C472.05,560.45 470.93,564.13 470.8,568.3 C470.67,572.47 471.25,578.22 472.5,581.7 C473.75,585.18 475.93,586.85 478.3,589.2 C480.67,591.55 483.63,594 486.7,595.8 C489.77,597.6 493.65,599.02 496.7,600 C499.75,600.98 502.23,601.83 505,601.7 C507.77,601.57 510.52,600.87 513.3,599.2 C516.08,597.53 519.33,594.9 521.7,591.7 C524.07,588.5 526.2,583.9 527.5,580 C528.8,576.1 529.42,571.92 529.5,568.3 C529.58,564.68 529.17,561.9 528,558.3 C526.83,554.7 524.67,550.3 522.5,546.7 C520.33,543.1 517.5,539.35 515,536.7 C512.5,534.05 509.87,532.05 507.5,530.8 C505.13,529.55 503.17,529.28 500.8,529.2Z" fill="none" stroke="#111" stroke-width="1.91"/>
<path d="M502.5,524.5 L504.7,603.3" fill="none" stroke="#111" stroke-width="1.31" stroke-dasharray="14 3 2 3"/>
<path d="M500,536.7 L503.3,595" fill="none" stroke="#111" stroke-width="2.25"/>
<path d="M470.8,570.6 L456.7,574.6 L471.7,579" fill="none" stroke="#111" stroke-width="1.66"/>
<path d="M470.8,570 Q500,566 523.3,570.8" fill="none" stroke="#111" stroke-width="1.57" stroke-dasharray="6 3"/>
<path d="M471.7,574.4 Q500,571.3 525,572.6" fill="none" stroke="#111" stroke-width="1.57" stroke-dasharray="6 3"/>
<path d="M475,577 Q495,576.5 512,574.5" fill="none" stroke="#111" stroke-width="1.49" stroke-dasharray="6 3"/>
<path d="M480,581.7 Q490,585.5 500.5,588.5" fill="none" stroke="#111" stroke-width="1.49" stroke-dasharray="6 3"/>
<path d="M523.3,572.5 Q512.5,579.5 510.8,592" fill="none" stroke="#111" stroke-width="1.57" stroke-dasharray="6 3"/>
<path d="M529.2,562.6 Q523,563 523.3,567.5 Q523.6,572 529.2,572.3" fill="none" stroke="#111" stroke-width="1.74"/>
<path d="M512.7,600.5 L512.5,624.4" fill="none" stroke="#111" stroke-width="1.74"/>
</g>
</svg>
</body></html>
